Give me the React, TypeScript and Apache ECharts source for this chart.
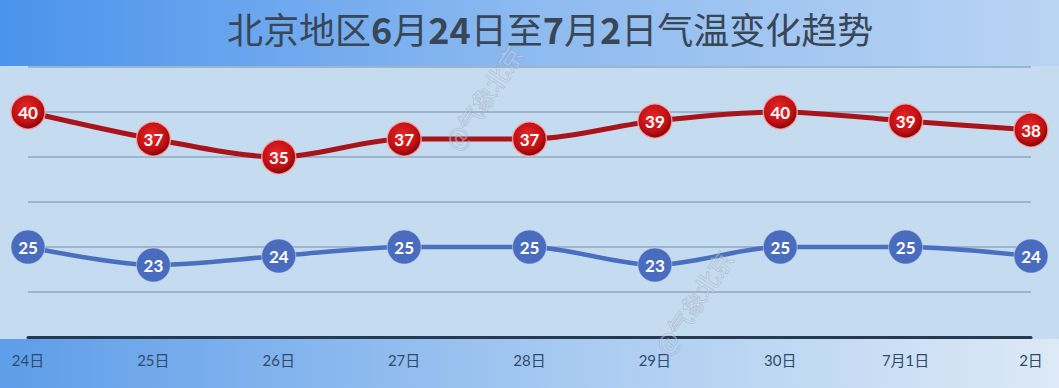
import React, { useEffect, useRef } from "react";
import * as echarts from "echarts";

const categories = ["24日", "25日", "26日", "27日", "28日", "29日", "30日", "7月1日", "2日"];
const highTemps = [40, 37, 35, 37, 37, 39, 40, 39, 38];
const lowTemps = [25, 23, 24, 25, 25, 23, 25, 25, 24];
const yMin = 15;
const yMax = 45;
const yInterval = 5;

const W = 1059;
const H = 388;

export default function App() {
  const ref = useRef<HTMLDivElement>(null);
  useEffect(() => {
    if (!ref.current) return;
    const chart = echarts.init(ref.current, null, { renderer: "svg" });
    const cjk = '"Noto Sans CJK SC", sans-serif';
    const num = 'Lato, "Noto Sans CJK SC", sans-serif';
    chart.setOption({
      animation: false,
      backgroundColor: "#c5dbef",
      graphic: [
        {
          type: "rect",
          z: -10,
          shape: { x: 0, y: 0, width: W, height: 66 },
          style: {
            fill: new echarts.graphic.LinearGradient(0, 0, 1, 0, [
              { offset: 0, color: "#4a93ec" },
              { offset: 0.5, color: "#8dbaf0" },
              { offset: 1, color: "#b9d4f3" },
            ]),
          },
        },
        {
          type: "rect",
          z: -10,
          shape: { x: 0, y: 339, width: W, height: H - 339 },
          style: {
            fill: new echarts.graphic.LinearGradient(0, 0, 1, 0, [
              { offset: 0, color: "#5e9de9" },
              { offset: 0.55, color: "#a9cbf1" },
              { offset: 1, color: "#dde9f6" },
            ]),
          },
        },
        {
          type: "text",
          z: 5,
          x: 440,
          y: 140,
          rotation: Math.PI / 3.2,
          style: {
            text: "@气象北京",
            fill: "rgba(255,255,255,0.3)",
            stroke: "rgba(120,140,170,0.4)",
            lineWidth: 1,
            font: '24px "Noto Sans CJK SC"',
          },
        },
        {
          type: "text",
          z: 5,
          x: 650,
          y: 345,
          rotation: Math.PI / 3.2,
          style: {
            text: "@气象北京",
            fill: "rgba(255,255,255,0.3)",
            stroke: "rgba(120,140,170,0.4)",
            lineWidth: 1,
            font: '24px "Noto Sans CJK SC"',
          },
        },
      ],
      title: {
        left: 222,
        top: 5,
        text: "{a|北京地区}{b|6}{a|月}{b|24}{a|日至}{b|7}{a|月}{b|2}{a|日气温变化趋势}",
        textStyle: {
          rich: {
            a: { fontFamily: cjk, fontSize: 36, color: "#384656", fontWeight: "normal" },
            b: { fontFamily: cjk, fontSize: 36, color: "#384656", fontWeight: "bold" },
          },
        },
      },
      grid: { left: 28, right: 28, top: 67, bottom: H - 337, containLabel: false },
      xAxis: {
        type: "category",
        data: categories,
        boundaryGap: false,
        axisLine: { show: true, lineStyle: { color: "#253a52", width: 3 } },
        axisTick: { show: false },
        axisLabel: { color: "#2e4b6e", fontSize: 15, fontFamily: num, margin: 15 },
        splitLine: { show: false },
      },
      yAxis: {
        type: "value",
        min: yMin,
        max: yMax,
        interval: yInterval,
        axisLine: { show: false },
        axisTick: { show: false },
        axisLabel: { show: false },
        splitLine: { show: true, lineStyle: { color: "#8ea8c2", width: 1.5 } },
      },
      series: [
        {
          name: "最高气温",
          type: "line",
          data: highTemps,
          smooth: 0.3,
          symbol: "circle",
          symbolSize: 34,
          lineStyle: { color: "#a8141a", width: 5 },
          itemStyle: {
            color: new echarts.graphic.RadialGradient(0.45, 0.4, 0.6, [
              { offset: 0, color: "#e8282a" },
              { offset: 0.7, color: "#c01014" },
              { offset: 1, color: "#7e0608" },
            ]),
            borderColor: "rgba(255,170,170,0.8)",
            borderWidth: 1.5,
          },
          label: {
            show: true,
            position: "inside",
            color: "#ffffff",
            fontSize: 17,
            fontWeight: "bold",
            fontFamily: num,
          },
          z: 3,
        },
        {
          name: "最低气温",
          type: "line",
          data: lowTemps,
          smooth: 0.3,
          symbol: "circle",
          symbolSize: 34,
          lineStyle: { color: "#4a6fbe", width: 4.5 },
          itemStyle: {
            color: "#4a6cbf",
            borderColor: "rgba(200,215,240,0.6)",
            borderWidth: 1,
          },
          label: {
            show: true,
            position: "inside",
            color: "#ffffff",
            fontSize: 17,
            fontWeight: "bold",
            fontFamily: num,
          },
          z: 3,
        },
      ],
    });
    return () => chart.dispose();
  }, []);
  return (
    <div
      ref={ref}
      style={{ position: "absolute", left: 0, top: 0, width: W, height: H }}
    />
  );
}
